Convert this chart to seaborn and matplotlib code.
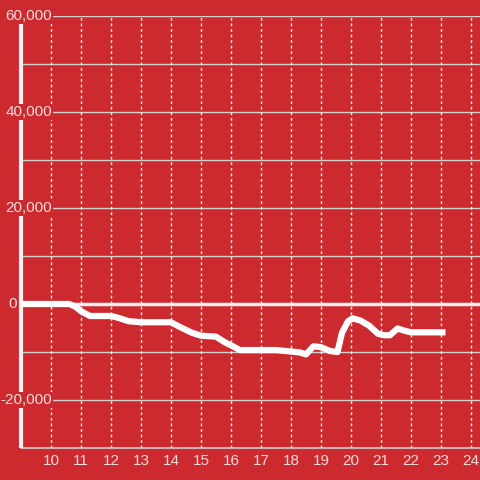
import matplotlib
matplotlib.use("Agg")
import matplotlib.pyplot as plt
import matplotlib.transforms as mtransforms
import pandas as pd
import seaborn as sns

# Daten (Stunde des Tages, Wert)
hours = [9.0, 10.6, 10.8, 11.0, 11.3, 12.0, 12.2, 12.6, 13.0, 14.0, 14.3, 14.7,
         15.0, 15.5, 15.8, 16.0, 16.3, 17.0, 17.5, 18.0, 18.3, 18.5, 18.75, 19.0,
         19.3, 19.55, 19.7, 19.9, 20.05, 20.3, 20.6, 20.9, 21.1, 21.3, 21.55,
         21.8, 22.0, 22.5, 23.15]
values = [0, 0, -500, -1500, -2500, -2500, -2800, -3600, -3800, -3800, -4800, -6000,
          -6600, -6800, -8000, -8600, -9600, -9600, -9600, -9900, -10100, -10500, -8800, -9000,
          -9800, -10000, -6000, -3600, -3000, -3400, -4500, -6200, -6500, -6500, -5100,
          -5600, -5900, -5900, -5900]
x_ticks = list(range(10, 25))
y_labels = [60000, 40000, 20000, 0, -20000]
y_grid = list(range(-20000, 60001, 10000))

bg = "#cc2a2f"
txt = "#f3dcdc"

sns.set_style("white")
plt.rcParams['font.family'] = ['Liberation Sans', 'DejaVu Sans']

fig = plt.figure(figsize=(4.8, 4.8), dpi=100, facecolor=bg)
ax = fig.add_axes([21 / 480, 32 / 480, 459 / 480, 432 / 480])
ax.set_facecolor(bg)

df = pd.DataFrame({'hour': hours, 'value': values})

# Gitter
for y in y_grid:
    ax.axhline(y, color="#d0d0d0", lw=1, zorder=1)
ax.axhline(-30000, color="#d0d0d0", lw=1.2, zorder=1, clip_on=False)
for x in x_ticks:
    ax.axvline(x, color="#f0f0f0", lw=1, ls=(0, (2, 2)), zorder=1)
ax.axhline(0, color="#f5f0f0", lw=2.5, zorder=2)

sns.lineplot(data=df, x='hour', y='value', color="white", lw=4.5, ax=ax,
             zorder=4, solid_joinstyle='round', solid_capstyle='butt')

ax.set_xlim(9, 24.3)
ax.set_ylim(-30000, 60000)
ax.set_xticks([])
ax.set_yticks([])
ax.set_xlabel("")
ax.set_ylabel("")
for s in ax.spines.values():
    s.set_visible(False)

# linke Achse
ax.plot([0, 0], [-30000, 58300], color="#f5f0f0", lw=3, transform=ax.get_yaxis_transform(),
        clip_on=False, zorder=3, solid_capstyle='butt')

# y-Beschriftungen mit Hintergrund
trans = mtransforms.blended_transform_factory(fig.transFigure, ax.transData)
for y in y_labels:
    if y == 0:
        ax.text(17 / 480, y, "0", transform=trans, ha='right', va='center',
                color=txt, fontsize=11, zorder=5)
        continue
    ax.text(52 / 480, y, f"{y:,}", transform=trans, ha='right', va='center',
            color=txt, fontsize=11, zorder=5,
            bbox=dict(facecolor=bg, edgecolor='none', pad=1.0))

# x-Beschriftungen
transx = mtransforms.blended_transform_factory(ax.transData, fig.transFigure)
for x in x_ticks:
    ax.text(x, 19 / 480, str(x), transform=transx, ha='center', va='center',
            color=txt, fontsize=11)

fig.savefig("out.png", dpi=100, facecolor=bg)
